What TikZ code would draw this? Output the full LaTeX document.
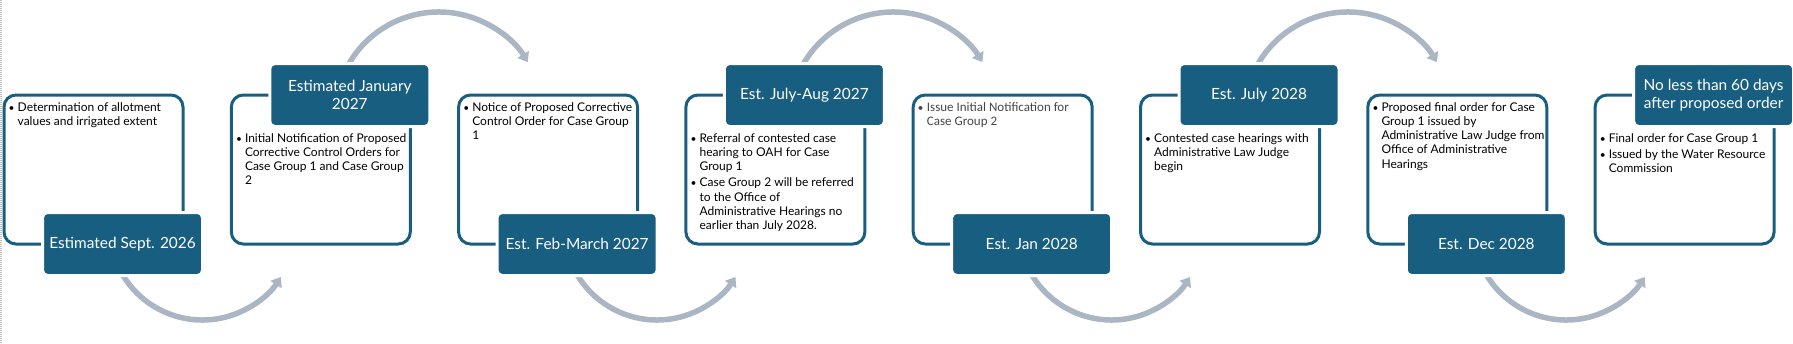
\documentclass[tikz,border=0pt]{standalone}
\usepackage{fontspec}
\setmainfont{Lato}
\newfontfamily\calfont{Carlito}
\usetikzlibrary{arrows.meta,calc}
\definecolor{boxblue}{RGB}{24,94,128}
\definecolor{arrowgray}{RGB}{170,182,196}
\definecolor{notegray}{RGB}{70,70,70}
\pgfdeclarelayer{bg}
\pgfsetlayers{bg,main}
\newcommand\bul{\makebox[9pt][l]{\scalebox{0.85}{\textbullet}}}
\newcommand\bitems[1]{\begin{tabular}[t]{@{}l@{}l@{}}#1\end{tabular}}
\begin{document}
\begin{tikzpicture}[x=1pt,y=1pt,
  frame/.style={draw=boxblue,line width=3pt,rounded corners=12pt,minimum width=179pt,minimum height=149pt,inner sep=0pt},
  datebox/.style={fill=boxblue,draw=white,line width=3pt,rounded corners=5pt,minimum width=160pt,minimum height=63pt,inner sep=0pt,text=white,align=center,font=\fontsize{15.4}{18}\selectfont},
  notes/.style={anchor=base west,inner sep=0pt,font=\fontsize{12}{14.3}\selectfont},
  flow/.style={draw=arrowgray,line width=5.5pt,-{Triangle[length=9pt,width=13pt]}}]
\useasboundingbox (0,0) rectangle (1793,-343);
\draw[gray!50,dash pattern=on 1pt off 1pt,line width=1.5pt] (0.75,0) -- (0.75,-343);

% outline boxes
\node[frame] (o1) at (93.5,-169.5) {};
\node[frame] (o2) at (320.8,-169.5) {};
\node[frame] (o3) at (548.1,-169.5) {};
\node[frame] (o4) at (775.4,-169.5) {};
\node[frame] (o5) at (1002.7,-169.5) {};
\node[frame] (o6) at (1230.0,-169.5) {};
\node[frame] (o7) at (1457.3,-169.5) {};
\node[frame] (o8) at (1684.6,-169.5) {};

% date boxes
\node[datebox] (d1) at (122.5,-244) {Estimated Sept. 2026};
\node[datebox] (d2) at (349.8,-95) {Estimated January\\2027};
\node[datebox] (d3) at (577.1,-244) {Est. Feb-March 2027};
\node[datebox] (d4) at (804.4,-95) {Est. July-Aug 2027};
\node[datebox] (d5) at (1031.7,-244) {Est. Jan 2028};
\node[datebox] (d6) at (1259.0,-95) {Est. July 2028};
\node[datebox] (d7) at (1486.3,-244) {Est. Dec 2028};
\node[datebox] (d8) at (1713.6,-95) {No less than 60 days\\after proposed order};

% notes
\node[notes] (t1) at (8.5,-111) {\bitems{\bul & Determination of allotment\\ & values and irrigated extent}};
\node[notes] (t2) at (235.8,-142) {\bitems{\bul & Initial Notification of Proposed\\ & Corrective Control Orders for\\ & Case Group 1 and Case Group\\ & 2}};
\node[notes] (t3) at (463.1,-111) {\bitems{\bul & Notice of Proposed Corrective\\ & Control Order for Case Group\\ & 1}};
\node[notes] (t4) at (690.4,-142) {\bitems{\bul & Referral of contested case\\ & hearing to OAH for Case\\ & Group 1\\[2pt]
 \bul & Case Group 2 will be referred\\ & to the Office of\\ & Administrative Hearings no\\ & earlier than July 2028.}};
\node[notes,text=notegray,font=\calfont\fontsize{13}{14.3}\selectfont] (t5) at (917.7,-111) {\bitems{\bul & Issue Initial Notification for\\ & Case Group 2}};
\node[notes] (t6) at (1145.0,-142) {\bitems{\bul & Contested case hearings with\\ & Administrative Law Judge\\ & begin}};
\node[notes] (t7) at (1372.3,-111) {\bitems{\bul & Proposed final order for Case\\ & Group 1 issued by\\ & Administrative Law Judge from\\ & Office of Administrative\\ & Hearings}};
\node[notes] (t8) at (1599.6,-142) {\bitems{\bul & Final order for Case Group 1\\[2pt]
 \bul & Issued by the Water Resource\\ & Commission}};

% flow arrows (behind boxes)
\begin{pgfonlayer}{bg}
\draw[flow] ($(d1.center)+(79.9,17)+(200:93)$) arc[start angle=200,end angle=327.5,radius=93];
\draw[flow] ($(d3.center)+(79.9,17)+(200:93)$) arc[start angle=200,end angle=327.5,radius=93];
\draw[flow] ($(d5.center)+(79.9,17)+(200:93)$) arc[start angle=200,end angle=327.5,radius=93];
\draw[flow] ($(d7.center)+(79.9,17)+(200:93)$) arc[start angle=200,end angle=327.5,radius=93];
\draw[flow] ($(d2.center)+(89,-21)+(160:104)$) arc[start angle=160,end angle=31.2,radius=104];
\draw[flow] ($(d4.center)+(89,-21)+(160:104)$) arc[start angle=160,end angle=31.2,radius=104];
\draw[flow] ($(d6.center)+(89,-21)+(160:104)$) arc[start angle=160,end angle=31.2,radius=104];
\end{pgfonlayer}
\end{tikzpicture}
\end{document}
